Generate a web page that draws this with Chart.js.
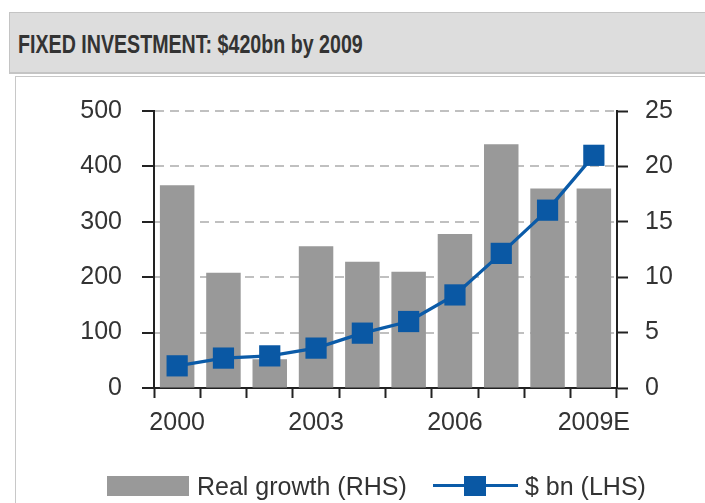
<!DOCTYPE html>
<html>
<head>
<meta charset="utf-8">
<script src="https://cdn.jsdelivr.net/npm/chart.js@4/dist/chart.umd.min.js"></script>
<style>
  html, body { margin: 0; padding: 0; background: #fff; }
  body { width: 705px; height: 503px; position: relative; overflow: hidden; font-family: "Liberation Sans", Arial, sans-serif; color: #333; }
  #header { position: absolute; left: 9px; top: 12px; width: 720px; height: 59px; background: #dddddd; border: 1px solid #c4c4c4; border-bottom-width: 2px; }
  #title { position: absolute; left: 18px; top: 29px; font-size: 26px; line-height: 30px; font-weight: bold; white-space: nowrap; transform: scaleX(0.755); transform-origin: left center; color: #333; }
  #panel { position: absolute; left: 15px; top: 76px; width: 720px; height: 460px; border: 1px solid #c8c8c8; }
  #chart { position: absolute; left: 0; top: 0; }
  .lg { position: absolute; font-size: 25px; line-height: 30px; white-space: nowrap; color: #333; }
</style>
</head>
<body>
<div id="header"></div>
<div id="title">FIXED INVESTMENT: $420bn by 2009</div>
<div id="panel"></div>
<canvas id="chart" width="705" height="503"></canvas>

<!-- legend -->
<div style="position:absolute;left:107px;top:476px;width:82px;height:20px;background:#999999"></div>
<div class="lg" style="left:197px;top:471px">Real growth (RHS)</div>
<div style="position:absolute;left:433px;top:484px;width:85px;height:3px;background:#0b5ba8"></div>
<div style="position:absolute;left:464px;top:476px;width:22px;height:20px;background:#0a58a4"></div>
<div class="lg" style="left:525px;top:471px">$ bn (LHS)</div>

<script>
// categories
var years = ['2000', '2001', '2002', '2003', '2004', '2005', '2006', '2007', '2008', '2009E'];
var yearTicks = ['2000', '', '', '2003', '', '', '2006', '', '', '2009E'];

// Real growth, % (right axis)
var realGrowth = [18.3, 10.4, 2.6, 12.8, 11.4, 10.5, 13.9, 22.0, 18.0, 18.0];
// $ bn (left axis)
var investBn = [40, 54, 58, 72, 99, 120, 168, 243, 321, 420];

Chart.defaults.font.family = '"Liberation Sans", Arial, sans-serif';
Chart.defaults.font.size = 25;
Chart.defaults.color = '#333';

var axisColor = '#222';

var ctx = document.getElementById('chart');
var fixedChart = new Chart(ctx, {
    type: 'bar',
    data: {
        labels: years,
        datasets: [{
            type: 'line',
            label: '$ bn (LHS)',
            data: investBn,
            yAxisID: 'yL',
            borderColor: '#0b5ba8',
            borderWidth: 3.3,
            pointStyle: 'rect',
            pointRadius: 15,
            pointBackgroundColor: '#0a58a4',
            pointBorderWidth: 0,
            tension: 0,
            order: 1
        }, {
            type: 'bar',
            label: 'Real growth (RHS)',
            data: realGrowth,
            yAxisID: 'yR',
            backgroundColor: '#999999',
            barPercentage: 0.745,
            categoryPercentage: 1,
            order: 2
        }]
    },
    options: {
        responsive: false,
        animation: false,
        devicePixelRatio: 1,
        layout: { padding: { top: 111, left: 0, right: 0, bottom: 0 } },
        plugins: {
            legend: { display: false },
            tooltip: { enabled: false }
        },
        scales: {
            x: {
                offset: true,
                afterFit: function (scale) { scale.height = 115; },
                grid: {
                    offset: true,
                    drawOnChartArea: false,
                    tickLength: 10,
                    tickWidth: 2,
                    tickColor: axisColor
                },
                border: { color: axisColor, width: 2 },
                ticks: {
                    autoSkip: false,
                    maxRotation: 0,
                    padding: 10,
                    callback: function (v, i) { return yearTicks[i]; }
                }
            },
            yL: {
                position: 'left',
                min: 0,
                max: 500,
                afterFit: function (scale) { scale.width = 154; },
                ticks: { stepSize: 100, padding: 20 },
                grid: {
                    color: function (c) { return c.tick && c.tick.value === 0 ? 'rgba(0,0,0,0)' : '#c0c0c0'; },
                    lineWidth: 2,
                    tickLength: 12,
                    tickWidth: 2,
                    tickColor: axisColor
                },
                border: { color: axisColor, width: 2, dash: [9, 6] }
            },
            yR: {
                position: 'right',
                min: 0,
                max: 25,
                afterFit: function (scale) { scale.width = 88; },
                ticks: { stepSize: 5, padding: 17 },
                grid: {
                    drawOnChartArea: false,
                    tickLength: 11,
                    tickWidth: 2,
                    tickColor: axisColor
                },
                border: { color: axisColor, width: 2 }
            }
        }
    }
});
</script>
</body>
</html>
